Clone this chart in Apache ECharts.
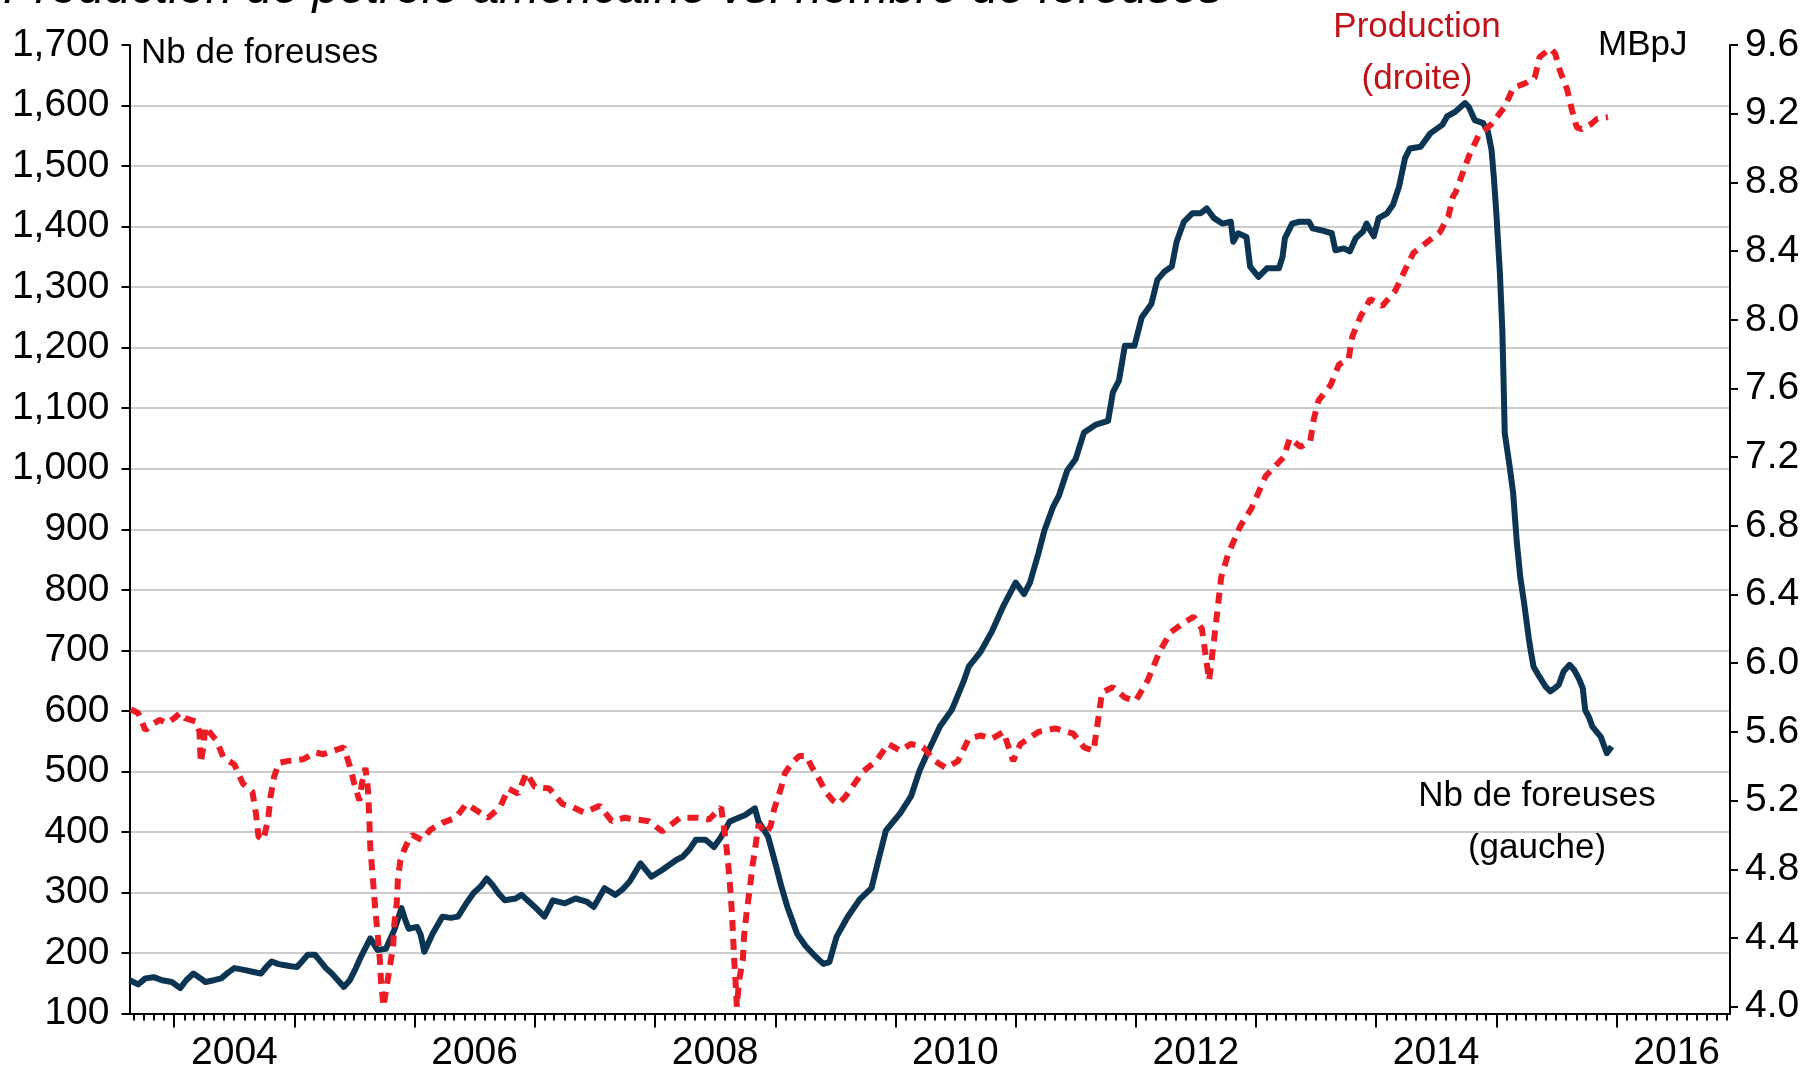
<!DOCTYPE html>
<html>
<head>
<meta charset="utf-8">
<script src="https://cdn.jsdelivr.net/npm/echarts@6/dist/echarts.min.js"></script>
<style>
html,body{margin:0;padding:0;background:#fff;}
#c{width:1809px;height:1073px;}
</style>
</head>
<body>
<div id="c"></div>
<script>
// ---- data (decimal years) ----
const rigT = [2003.63,2003.70,2003.76,2003.83,2003.90,2003.98,2004.05,2004.10,2004.16,2004.22,2004.26,2004.33,2004.39,2004.45,2004.50,2004.58,2004.65,2004.72,2004.77,2004.81,2004.86,2004.91,2004.97,2005.02,2005.07,2005.11,2005.17,2005.22,2005.26,2005.31,2005.36,2005.41,2005.46,2005.51,2005.56,2005.60,2005.63,2005.69,2005.76,2005.83,2005.89,2005.92,2005.95,2006.02,2006.05,2006.08,2006.15,2006.23,2006.30,2006.36,2006.43,2006.49,2006.55,2006.60,2006.65,2006.70,2006.75,2006.84,2006.89,2006.95,2007.00,2007.08,2007.15,2007.25,2007.34,2007.43,2007.49,2007.58,2007.67,2007.73,2007.79,2007.88,2007.97,2008.06,2008.18,2008.23,2008.29,2008.34,2008.42,2008.49,2008.55,2008.62,2008.68,2008.75,2008.83,2008.86,2008.90,2008.94,2009.00,2009.05,2009.10,2009.18,2009.25,2009.33,2009.40,2009.45,2009.51,2009.60,2009.70,2009.80,2009.86,2009.92,2010.04,2010.13,2010.20,2010.28,2010.37,2010.47,2010.57,2010.61,2010.71,2010.80,2010.90,2011.00,2011.07,2011.12,2011.19,2011.24,2011.31,2011.36,2011.43,2011.50,2011.57,2011.67,2011.77,2011.81,2011.86,2011.91,2011.99,2012.05,2012.13,2012.18,2012.24,2012.30,2012.34,2012.40,2012.47,2012.54,2012.59,2012.65,2012.72,2012.79,2012.81,2012.85,2012.92,2012.95,2013.02,2013.09,2013.19,2013.22,2013.24,2013.30,2013.36,2013.44,2013.47,2013.54,2013.63,2013.66,2013.73,2013.78,2013.83,2013.89,2013.92,2013.95,2013.98,2014.02,2014.09,2014.14,2014.19,2014.24,2014.28,2014.37,2014.45,2014.55,2014.59,2014.66,2014.74,2014.77,2014.82,2014.89,2014.93,2014.96,2014.98,2015.00,2015.03,2015.05,2015.06,2015.07,2015.11,2015.14,2015.17,2015.20,2015.23,2015.27,2015.29,2015.31,2015.36,2015.41,2015.45,2015.49,2015.52,2015.56,2015.61,2015.65,2015.69,2015.72,2015.74,2015.77,2015.80,2015.87,2015.92,2015.96];
const rigV = [155,148,158,160,155,152,142,155,166,158,152,155,158,168,175,172,169,166,178,186,182,180,178,177,188,197,197,185,175,166,155,144,155,175,197,212,224,205,207,238,274,255,240,243,230,202,232,260,258,260,282,299,310,323,312,298,287,290,296,285,276,260,287,282,290,285,276,307,296,305,318,348,326,337,354,359,372,387,387,375,392,417,422,428,439,417,405,392,348,310,276,232,212,195,182,185,227,259,288,307,355,402,431,459,501,536,574,602,650,673,698,730,774,812,793,812,860,898,936,955,997,1016,1060,1073,1079,1126,1145,1203,1203,1250,1272,1312,1326,1334,1375,1408,1422,1422,1430,1414,1405,1408,1375,1389,1383,1334,1317,1331,1331,1350,1381,1405,1408,1408,1397,1394,1389,1361,1364,1359,1381,1392,1405,1394,1384,1414,1422,1436,1466,1513,1529,1532,1554,1568,1582,1590,1604,1598,1576,1571,1557,1527,1480,1422,1323,1229,1147,1059,1005,960,880,820,780,720,695,673,656,640,632,638,643,665,676,667,652,637,601,590,574,557,530,541];

const prodT = [2003.64,2003.70,2003.76,2003.83,2003.88,2003.94,2004.00,2004.05,2004.09,2004.18,2004.21,2004.22,2004.24,2004.26,2004.28,2004.35,2004.41,2004.50,2004.57,2004.65,2004.68,2004.70,2004.74,2004.78,2004.80,2004.83,2004.87,2004.94,2005.07,2005.17,2005.24,2005.32,2005.41,2005.46,2005.50,2005.54,2005.56,2005.59,2005.61,2005.62,2005.63,2005.65,2005.67,2005.69,2005.71,2005.72,2005.74,2005.76,2005.79,2005.82,2005.83,2005.85,2005.86,2005.88,2005.91,2005.95,2005.98,2006.06,2006.13,2006.23,2006.34,2006.43,2006.52,2006.61,2006.71,2006.78,2006.86,2006.93,2007.00,2007.12,2007.23,2007.32,2007.41,2007.54,2007.64,2007.75,2007.84,2007.95,2008.06,2008.21,2008.36,2008.45,2008.55,2008.58,2008.60,2008.62,2008.64,2008.65,2008.66,2008.67,2008.68,2008.70,2008.73,2008.74,2008.76,2008.79,2008.81,2008.83,2008.86,2008.92,2008.96,2008.99,2009.05,2009.08,2009.14,2009.20,2009.26,2009.30,2009.36,2009.42,2009.48,2009.52,2009.58,2009.65,2009.73,2009.84,2009.94,2010.04,2010.13,2010.23,2010.33,2010.42,2010.52,2010.61,2010.71,2010.80,2010.90,2010.98,2011.04,2011.19,2011.33,2011.48,2011.57,2011.65,2011.72,2011.81,2011.91,2012.00,2012.10,2012.20,2012.29,2012.39,2012.48,2012.55,2012.61,2012.65,2012.71,2012.77,2012.87,2012.96,2013.08,2013.23,2013.28,2013.37,2013.45,2013.48,2013.52,2013.62,2013.69,2013.77,2013.80,2013.87,2013.95,2014.05,2014.16,2014.24,2014.31,2014.42,2014.53,2014.60,2014.64,2014.66,2014.77,2014.85,2014.96,2015.07,2015.14,2015.25,2015.32,2015.36,2015.45,2015.49,2015.53,2015.59,2015.63,2015.67,2015.71,2015.79,2015.84,2015.93];
const prodV = [5.73,5.71,5.61,5.65,5.67,5.65,5.68,5.71,5.68,5.66,5.60,5.42,5.50,5.63,5.61,5.55,5.45,5.41,5.30,5.25,5.12,4.99,4.97,5.09,5.22,5.34,5.42,5.43,5.44,5.48,5.47,5.49,5.51,5.40,5.29,5.20,5.30,5.39,5.27,5.13,4.93,4.76,4.58,4.43,4.27,4.14,4.00,4.09,4.22,4.35,4.48,4.60,4.74,4.85,4.91,4.97,5.00,4.97,5.03,5.07,5.10,5.18,5.14,5.10,5.16,5.27,5.24,5.36,5.28,5.27,5.18,5.16,5.13,5.17,5.08,5.10,5.09,5.08,5.02,5.10,5.10,5.09,5.16,5.01,4.89,4.74,4.54,4.39,4.25,4.14,4.00,4.16,4.27,4.41,4.54,4.70,4.82,4.91,5.06,5.01,5.05,5.15,5.28,5.36,5.42,5.46,5.46,5.40,5.33,5.25,5.20,5.18,5.22,5.29,5.37,5.43,5.53,5.49,5.53,5.51,5.43,5.39,5.43,5.56,5.58,5.56,5.60,5.43,5.53,5.60,5.62,5.59,5.51,5.49,5.83,5.86,5.80,5.78,5.90,6.07,6.18,6.23,6.27,6.20,5.90,6.13,6.50,6.64,6.80,6.90,7.09,7.20,7.31,7.26,7.29,7.42,7.53,7.62,7.74,7.77,7.90,8.02,8.12,8.08,8.17,8.29,8.39,8.45,8.51,8.60,8.72,8.74,8.95,9.07,9.14,9.24,9.35,9.38,9.41,9.53,9.58,9.55,9.45,9.34,9.22,9.12,9.11,9.14,9.17,9.18];

const leftTicks = [100,200,300,400,500,600,700,800,900,1000,1100,1200,1300,1400,1500,1600,1700];
const rightTicks = [4.0,4.4,4.8,5.2,5.6,6.0,6.4,6.8,7.2,7.6,8.0,8.4,8.8,9.2,9.6];
const yearLabels = [2004,2006,2008,2010,2012,2014,2016];

// ---- helpers ----
function yt(t){const y=Math.floor(t);const s=Date.UTC(y,0,1),e=Date.UTC(y+1,0,1);return s+(t-y)*(e-s);}
const xMin = yt(2003.628), xMax = yt(2016.943);
const monthTicks = [];
for(let y=2003;y<=2016;y++){for(let m=0;m<12;m++){const d=Date.UTC(y,m,1);if(d>=xMin&&d<=xMax)monthTicks.push(d);}}
const yearTicks = [];
for(let y=2004;y<=2016;y++)yearTicks.push(Date.UTC(y,0,1));
const labelPos = yearLabels.map(y=>Date.UTC(y,6,2));

const NAVY='#0b3552', RED='#ec1c24', RED_TXT='#c0121a';
const REG = "'Liberation Sans',Arial,sans-serif";

const chart = echarts.init(document.getElementById('c'),null,{renderer:'canvas'});
chart.setOption({
  animation:false,
  backgroundColor:'#fff',
  grid:{left:129.5,right:79,top:45,bottom:59.5,containLabel:false},
  xAxis:[
    {type:'value',min:xMin,max:xMax,position:'bottom',
     axisLine:{show:true,onZero:false,lineStyle:{color:'#000',width:2}},
     axisTick:{show:true,customValues:monthTicks,length:7,inside:false,lineStyle:{color:'#000',width:2}},
     axisLabel:{show:true,customValues:labelPos,margin:20,color:'#000',fontSize:39,fontFamily:REG,
       formatter:function(v){return String(new Date(v).getUTCFullYear());}},
     splitLine:{show:false}},
    {type:'value',min:xMin,max:xMax,position:'bottom',
     axisLine:{show:false,onZero:false},
     axisTick:{show:true,customValues:yearTicks,length:14,inside:false,lineStyle:{color:'#000',width:2}},
     axisLabel:{show:false},splitLine:{show:false}}
  ],
  yAxis:[
    {type:'value',min:100,max:1700,interval:100,position:'left',
     axisLine:{show:true,onZero:false,lineStyle:{color:'#000',width:2}},
     axisTick:{show:true,length:8,inside:false,lineStyle:{color:'#000',width:2}},
     axisLabel:{margin:20,color:'#000',fontSize:39,fontFamily:REG,
       formatter:function(v){return v>=1000?(Math.floor(v/1000)+','+String(v%1000).padStart(3,'0')):String(v);}},
     splitLine:{show:true,showMaxLine:false,showMinLine:false,lineStyle:{color:'#cccccc',width:2}}},
    {type:'value',min:3.96,max:9.6,position:'right',
     axisLine:{show:true,onZero:false,lineStyle:{color:'#000',width:2}},
     axisTick:{show:true,customValues:rightTicks,length:8,inside:false,lineStyle:{color:'#000',width:2}},
     axisLabel:{customValues:rightTicks,margin:15,color:'#000',fontSize:39,fontFamily:REG,
       formatter:function(v){return Number(v).toFixed(1);}},
     splitLine:{show:false}}
  ],
  series:[
    {name:'Nb de foreuses',type:'line',xAxisIndex:0,yAxisIndex:0,showSymbol:false,symbol:'none',
     lineStyle:{color:NAVY,width:6,join:'round'},
     data:rigT.map((t,i)=>[yt(t),rigV[i]]),z:3},
    {name:'Production',type:'line',xAxisIndex:0,yAxisIndex:1,showSymbol:false,symbol:'none',
     lineStyle:{color:RED,width:6,type:[11,8]},
     data:prodT.map((t,i)=>[yt(t),prodV[i]]),z:4}
  ],
  graphic:[
    {type:'text',left:3,top:-34,style:{text:'Production de pétrole américaine vs. nombre de foreuses',font:"italic 48px "+REG,fill:'#000'}},
    {type:'text',x:141,y:53,style:{text:'Nb de foreuses',font:"35px "+REG,fill:'#000',textVerticalAlign:'middle'}},
    {type:'text',x:1417,y:27,style:{text:'Production',font:"35px "+REG,fill:RED_TXT,textAlign:'center',textVerticalAlign:'middle'}},
    {type:'text',x:1417,y:79,style:{text:'(droite)',font:"35px "+REG,fill:RED_TXT,textAlign:'center',textVerticalAlign:'middle'}},
    {type:'text',x:1598,y:45,style:{text:'MBpJ',font:"35px "+REG,fill:'#000',textVerticalAlign:'middle'}},
    {type:'text',x:1537,y:796,style:{text:'Nb de foreuses',font:"35px "+REG,fill:'#000',textAlign:'center',textVerticalAlign:'middle'}},
    {type:'text',x:1537,y:848,style:{text:'(gauche)',font:"35px "+REG,fill:'#000',textAlign:'center',textVerticalAlign:'middle'}}
  ]
});
</script>
</body>
</html>
